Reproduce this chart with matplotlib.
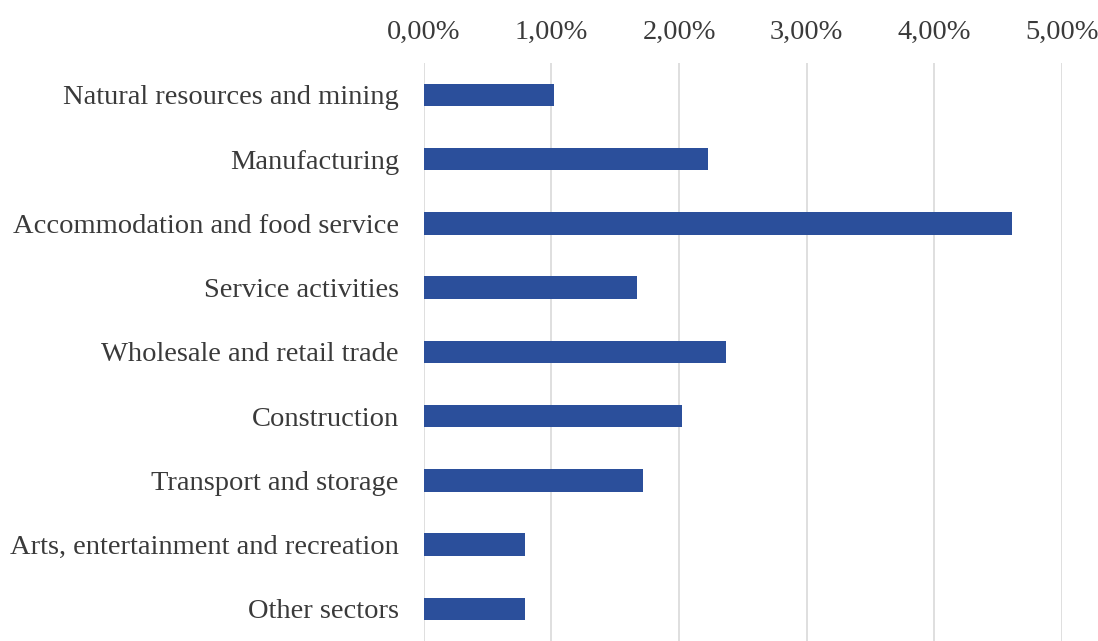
import matplotlib.pyplot as plt
import numpy as np
from matplotlib.ticker import FuncFormatter

sectors = ['Natural resources and mining', 'Manufacturing',
           'Accommodation and food service', 'Service activities',
           'Wholesale and retail trade', 'Construction',
           'Transport and storage', 'Arts, entertainment and recreation',
           'Other sectors']
shares = [1.02, 2.23, 4.61, 1.67, 2.37, 2.02, 1.72, 0.79, 0.79]

plt.rcParams['font.family'] = ['Liberation Serif', 'DejaVu Serif']

fig = plt.figure(figsize=(10.98, 6.41), dpi=100)
ax = fig.add_axes([0.386, 0.0, 0.581, 0.902])

y = np.arange(len(sectors))
ax.barh(y, shares, height=0.35, color='#2B4F9B', zorder=3)
ax.set_ylim(len(sectors) - 0.5, -0.5)
ax.set_xlim(0, 5)
ax.set_yticks(y)
ax.set_yticklabels(sectors)

ax.set_xticks(np.arange(0, 6))
ax.xaxis.set_major_formatter(FuncFormatter(lambda v, p: f'{v:.2f}%'.replace('.', ',')))
ax.xaxis.tick_top()
ax.grid(axis='x', color='#d9d9d9', linewidth=1.2, zorder=0)
for s in ax.spines.values():
    s.set_visible(False)
ax.tick_params(axis='both', length=0, labelsize=20.5, colors='#3a3a3a')
ax.tick_params(axis='y', pad=18)
ax.tick_params(axis='x', pad=13)

fig.savefig('out.png', dpi=100, facecolor='white')
